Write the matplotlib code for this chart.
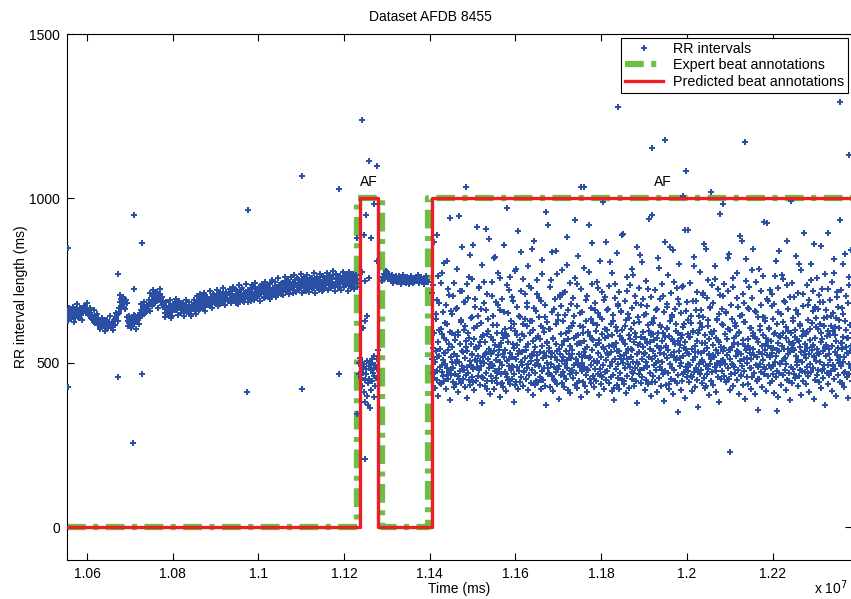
import numpy as np
import matplotlib.pyplot as plt

plt.rcParams['font.family'] = ['Liberation Sans', 'DejaVu Sans']

# --- data (time in ms, RR interval in ms) ---
# sinus rhythm before first AF episode, beats spread evenly between these times
nsr1_span = [10555000, 11231000]
nsr1_rr = [
    652, 640, 661, 645, 633, 650, 658, 641, 647, 636, 655, 662, 648, 639, 657, 666, 651, 644, 660, 653,
    668, 659, 671, 655, 662, 648, 657, 641, 650, 636, 644, 629, 638, 625, 634, 641, 622, 630, 619, 627,
    615, 628, 621, 610, 624, 617, 631, 612, 620, 606, 618, 625, 611, 619, 608, 623, 616, 629, 614, 626,
    638, 645, 649, 652, 668, 684, 695, 672, 689, 700, 678, 665, 691, 683, 640, 628, 621, 635, 624, 632,
    627, 638, 619, 633, 641, 625, 636, 630, 644, 639, 652, 660, 647, 668, 657, 671, 663, 655, 669, 661,
    664, 672, 658, 681, 690, 702, 685, 712, 697, 706, 689, 715, 700, 693, 708, 684, 696, 677, 688, 670,
    662, 651, 668, 645, 657, 673, 649, 664, 655, 641, 660, 675, 667, 682, 670, 661, 678, 686, 669, 676,
    681, 666, 659, 674, 652, 668, 663, 677, 655, 671, 660, 648, 667, 658, 673, 662, 679, 669, 656, 674,
    684, 671, 692, 678, 665, 687, 674, 696, 680, 669, 690, 683, 701, 676, 688, 694, 672, 685, 698, 679,
    693, 705, 684, 697, 688, 710, 676, 699, 691, 703, 682, 708, 695, 713, 687, 700, 716, 694, 706, 689,
    711, 698, 687, 705, 719, 693, 702, 724, 697, 683, 709, 700, 715, 692, 706, 721, 699, 688, 712, 703,
    696, 714, 707, 685, 720, 701, 711, 726, 694, 716, 705, 730, 709, 698, 719, 712, 724, 703, 717, 727,
    709, 722, 731, 714, 700, 726, 718, 735, 707, 721, 713, 739, 716, 704, 728, 711, 724, 733, 706, 719,
    727, 716, 738, 723, 710, 731, 744, 720, 735, 725, 748, 729, 717, 740, 732, 722, 745, 736, 727, 739,
    744, 730, 751, 737, 722, 742, 756, 733, 746, 728, 740, 753, 735, 719, 748, 738, 731, 752, 743, 726,
    739, 749, 732, 758, 741, 726, 747, 735, 754, 744, 729, 750, 738, 760, 733, 745, 722, 748, 740, 756,
    735, 751, 743, 762, 738, 748, 729, 755, 744, 766, 740, 733, 757, 747, 736, 760, 742, 751, 731, 749,
    758, 741, 764, 750, 736, 755, 745, 768, 739, 752, 743, 761, 734, 757, 748, 740, 763, 751, 744, 756,
]
# more beats of the same stretch (upper and lower edge of the band)
nsr1_rr_b = [
    628, 666, 640, 671, 625, 659, 678, 636, 664, 630, 672, 652, 681, 645, 668, 633, 660, 622, 649, 615,
    603, 636, 612, 598, 630, 607, 641, 615, 600, 633, 650, 628, 705, 662, 698, 671, 690, 612, 641, 605,
    612, 646, 603, 640, 618, 678, 641, 684, 650, 675, 690, 712, 674, 720, 681, 709, 668, 725, 699, 680,
    640, 684, 652, 690, 637, 679, 660, 695, 645, 688, 650, 681, 642, 692, 655, 686, 641, 677, 690, 648,
    702, 661, 708, 670, 713, 658, 699, 676, 718, 667, 709, 681, 722, 672, 715, 686, 728, 675, 711, 690,
    725, 681, 731, 690, 720, 678, 737, 695, 728, 684, 741, 699, 719, 687, 735, 692, 744, 701, 730, 689,
    740, 697, 746, 703, 738, 693, 752, 709, 745, 700, 757, 712, 741, 705, 760, 715, 748, 708, 762, 711,
    766, 714, 759, 720, 771, 712, 762, 718, 768, 716, 757, 725, 774, 713, 760, 722, 769, 717, 763, 727,
    772, 720, 767, 726, 778, 718, 770, 729, 765, 722, 775, 731, 768, 719, 776, 727, 771, 724, 766, 730,
]

# short AF episode
af1_t = [11230200, 11231000, 11234800, 11235900, 11237200, 11238400, 11239500, 11240600, 11241800,
         11242900, 11244200, 11245300, 11246500, 11247600, 11248800, 11249900, 11251100, 11252300,
         11253500, 11254600, 11255800, 11256900, 11258200, 11259300, 11260500, 11261700, 11262900,
         11264000, 11265200, 11266300, 11267500, 11268700, 11269900, 11271000, 11272200, 11273300,
         11274500, 11275700, 11276900, 11241200, 11251200, 11246500, 11262900, 11269900, 11276600,
         11258200, 11248900, 11253500, 11248900, 11244200, 11269900, 11248900, 11241200, 11258200,
         11277600, 11280000]
af1_rr = [880, 343, 465, 498, 515, 472, 490, 455, 503, 430, 488, 468, 412, 495, 447, 380, 482,
          465, 398, 505, 437, 370, 490, 452, 362, 478, 418, 500, 445, 512, 470, 395, 485, 460,
          430, 492, 455, 510, 480, 1239, 950, 888, 880, 983, 809, 1114, 748, 642, 626, 606, 522,
          206, 775, 759, 1099, 540]

# sinus rhythm between the two AF episodes
nsr2_span = [11289000, 11396000]
nsr2_rr = [748, 762, 771, 758, 780, 767, 776, 754, 769, 761, 750, 766, 757, 744, 760, 752, 765, 746,
           758, 749, 763, 755, 741, 759, 751, 768, 747, 756, 743, 761, 753, 739, 757, 748, 764, 750,
           742, 758, 745, 754, 760, 749, 766, 744, 757, 751, 762, 746, 755, 740, 759, 748, 763, 752, 745]

# long AF episode
af2_span = [11406000, 12385000]
af2_rr = [
    512, 468, 735, 455, 590, 423, 501, 648, 537, 476, 889, 449, 562, 398, 520, 681, 487, 541, 436, 604, 473, 772, 508, 459, 575,
    446, 530, 497, 621, 419, 568, 484, 811, 452, 539, 706, 471, 595, 388, 516, 462, 657, 503, 548, 441, 483, 742, 527, 467, 584,
    498, 436, 667, 521, 459, 583, 412, 502, 945, 474, 556, 438, 629, 490, 717, 451, 533, 479, 600, 426, 513, 685, 463, 547, 392,
    535, 470, 589, 448, 761, 505, 431, 558, 492, 640, 457, 526, 859, 481, 572, 417, 509, 694, 443, 541, 486, 613, 460, 522, 728,
    477, 551, 432, 506, 662, 489, 578, 379, 519, 453, 745, 498, 564, 428, 531, 906, 469, 587, 445, 511, 632, 484, 543, 404, 496,
    528, 461, 703, 444, 570, 490, 615, 421, 536, 474, 822, 509, 455, 592, 437, 524, 676, 482, 549, 397, 501, 759, 467, 560, 439,
    493, 574, 425, 518, 654, 471, 540, 413, 586, 458, 970, 504, 447, 563, 490, 721, 435, 529, 479, 607, 452, 516, 689, 486, 382,
    546, 466, 598, 433, 512, 784, 488, 553, 420, 527, 643, 475, 568, 441, 502, 837, 457, 534, 494, 619, 429, 581, 472, 710, 515,
    451, 539, 484, 671, 416, 557, 497, 733, 463, 520, 589, 438, 506, 626, 478, 565, 401, 532, 870, 469, 548, 493, 657, 444, 525,
    507, 580, 440, 698, 489, 534, 458, 611, 421, 552, 476, 769, 514, 447, 593, 483, 639, 430, 521, 373, 562, 499, 918, 465, 537,
    470, 545, 427, 602, 495, 751, 459, 530, 414, 576, 488, 664, 443, 517, 841, 473, 558, 436, 509, 629, 481, 543, 391, 526, 699,
    462, 588, 504, 437, 713, 518, 471, 565, 425, 645, 497, 536, 452, 798, 484, 571, 418, 528, 606, 466, 551, 409, 513, 680, 478,
    540, 455, 620, 492, 574, 433, 935, 511, 468, 556, 422, 739, 500, 583, 446, 527, 651, 486, 561, 395, 519, 474, 608, 441, 532,
    487, 566, 429, 522, 692, 463, 547, 410, 595, 478, 776, 515, 450, 580, 493, 633, 438, 538, 864, 459, 570, 426, 505, 659, 481,
    553, 445, 614, 498, 727, 467, 529, 402, 561, 482, 640, 435, 517, 588, 456, 990, 494, 542, 419, 576, 471, 700, 508, 448, 599,
    476, 523, 665, 439, 550, 491, 806, 457, 533, 415, 585, 502, 627, 464, 548, 387, 512, 741, 480, 560, 431, 597, 495, 673, 453,
    537, 420, 582, 469, 654, 511, 447, 568, 499, 893, 435, 524, 612, 483, 557, 408, 529, 718, 460, 543, 496, 636, 424, 571, 488,
    519, 604, 451, 538, 472, 766, 501, 562, 428, 590, 485, 683, 443, 526, 377, 554, 497, 625, 466, 532, 829, 479, 578, 437, 510,
    458, 547, 693, 485, 527, 416, 573, 503, 648, 449, 561, 490, 724, 434, 518, 596, 470, 541, 399, 585, 512, 950, 461, 535, 622,
    493, 569, 440, 520, 661, 477, 552, 412, 590, 506, 787, 455, 531, 615, 487, 544, 428, 567, 501, 702, 465, 528, 384, 579, 474,
    548, 432, 603, 515, 669, 468, 539, 421, 581, 496, 853, 452, 525, 640, 484, 565, 406, 534, 479, 747, 446, 557, 509, 618, 437,
    514, 591, 462, 536, 678, 489, 553, 418, 574, 500, 731, 443, 521, 609, 471, 546, 393, 563, 487, 656, 458, 530, 905, 476, 587,
    442, 526, 577, 494, 643, 461, 541, 413, 594, 508, 795, 473, 550, 427, 518, 687, 483, 566, 449, 532, 366, 599, 497, 621, 465,
    531, 478, 608, 439, 559, 502, 712, 454, 537, 424, 583, 490, 847, 467, 545, 630, 481, 523, 401, 571, 496, 667, 445, 512, 588,
    471, 555, 433, 598, 517, 756, 486, 540, 411, 576, 499, 634, 458, 529, 380, 563, 492, 706, 450, 547, 619, 474, 535, 984, 507,
    544, 460, 587, 495, 650, 441, 524, 572, 483, 819, 452, 538, 417, 601, 511, 675, 466, 549, 497, 730, 429, 561, 488, 612, 470,
    520, 582, 447, 535, 697, 479, 556, 405, 593, 504, 641, 462, 527, 870, 491, 568, 431, 512, 624, 476, 551, 389, 538, 748, 458,
    499, 573, 436, 546, 662, 484, 530, 420, 605, 510, 781, 456, 541, 592, 468, 523, 405, 579, 493, 655, 443, 516, 357, 564, 487,
    532, 451, 611, 497, 719, 473, 552, 426, 584, 508, 927, 465, 539, 636, 480, 557, 414, 525, 694, 461, 570, 492, 603, 438, 518,
    483, 566, 445, 529, 672, 490, 544, 409, 587, 503, 764, 457, 520, 617, 475, 560, 396, 536, 840, 468, 578, 499, 648, 432, 551,
    505, 589, 463, 541, 688, 478, 515, 418, 574, 496, 737, 449, 527, 597, 470, 562, 386, 533, 993, 488, 555, 439, 626, 482, 545,
    467, 538, 599, 453, 521, 659, 494, 570, 428, 509, 801, 461, 547, 612, 479, 532, 402, 581, 502, 710, 443, 524, 586, 473, 558,
    513, 434, 594, 487, 545, 676, 459, 528, 412, 568, 497, 753, 471, 539, 621, 484, 555, 391, 517, 862, 448, 575, 506, 637, 464,
    541, 479, 603, 442, 526, 684, 501, 563, 423, 589, 474, 725, 455, 537, 611, 492, 548, 371, 520, 660, 469, 580, 493, 895, 436,
    527, 462, 585, 508, 643, 476, 550, 415, 596, 489, 772, 451, 533, 608, 481, 566, 400, 524, 701, 464, 544, 498, 629, 441, 519,
    489, 561, 437, 543, 666, 503, 577, 427, 518, 832, 472, 549, 601, 458, 530, 392, 574, 495, 738, 466, 537, 615, 484, 552, 445,
]
# more beats of the same episode (the sparser upper part of the cloud)
af2_rr_b = [
    712, 545, 868, 472, 633, 690, 518, 765, 601, 438, 742, 587, 493, 654,
    803, 531, 676, 462, 619, 725, 556, 941, 482, 648, 591, 703, 427, 570,
    664, 509, 786, 594, 451, 718, 623, 537, 852, 479, 685, 612, 566, 739,
    488, 698, 575, 829, 636, 523, 754, 440, 607, 671, 549, 912, 505, 643,
    731, 562, 620, 458, 797, 584, 681, 526, 659, 419, 708, 597, 876, 533,
    579, 745, 497, 642, 818, 554, 686, 470, 615, 773, 540, 661, 434, 592,
    694, 528, 859, 603, 467, 736, 581, 650, 512, 762, 626, 489, 701, 558,
    617, 778, 442, 669, 584, 902, 536, 640, 719, 501, 588, 755, 476, 632,
    548, 682, 611, 794, 463, 627, 726, 520, 845, 599, 668, 431, 574, 710,
    751, 495, 638, 571, 689, 448, 812, 606, 530, 677, 960, 559, 624, 484,
    602, 729, 516, 655, 838, 572, 447, 693, 619, 769, 535, 645, 491, 707,
    674, 553, 781, 628, 460, 716, 590, 881, 507, 661, 596, 743, 474, 611,
    526, 696, 641, 758, 582, 437, 673, 825, 561, 612, 724, 499, 654, 589,
    789, 543, 627, 480, 702, 595, 919, 518, 666, 739, 571, 622, 452, 683,
    598, 747, 506, 652, 570, 808, 464, 634, 715, 547, 690, 603, 867, 529,
    660, 581, 733, 489, 617, 772, 555, 644, 423, 697, 610, 834, 536, 679,
    714, 522, 657, 600, 890, 568, 446, 688, 629, 761, 510, 647, 583, 735,
    543, 668, 784, 469, 621, 704, 579, 853, 502, 639, 726, 557, 677, 457,
    806, 593, 646, 531, 750, 486, 672, 615, 938, 564, 699, 441, 624, 587,
    637, 720, 498, 663, 576, 819, 545, 694, 609, 477, 741, 590, 655, 866,
    552, 680, 607, 767, 436, 626, 711, 573, 645, 842, 519, 663, 598, 728,
    693, 566, 799, 513, 650, 584, 734, 466, 618, 905, 541, 685, 631, 497,
    577, 744, 622, 458, 687, 596, 821, 534, 661, 716, 589, 473, 642, 776,
    659, 508, 705, 638, 862, 561, 428, 697, 613, 752, 527, 671, 594, 738,
    524, 681, 597, 793, 476, 630, 725, 569, 648, 953, 505, 664, 615, 703,
    740, 586, 653, 449, 717, 604, 830, 538, 676, 632, 494, 759, 575, 621,
    612, 772, 532, 669, 591, 887, 461, 644, 709, 558, 683, 624, 815, 515,
    667, 550, 730, 606, 483, 697, 580, 847, 523, 658, 745, 572, 639, 452,
    785, 601, 676, 528, 640, 763, 487, 626, 574, 924, 551, 688, 607, 721,
    546, 710, 634, 465, 679, 592, 808, 539, 655, 727, 582, 496, 647, 768,
    623, 754, 512, 686, 609, 871, 543, 665, 443, 701, 589, 743, 561, 636,
    699, 578, 826, 501, 648, 713, 566, 619, 782, 474, 674, 598, 895, 537,
    587, 736, 629, 470, 692, 603, 799, 549, 657, 718, 520, 671, 610, 757,
    663, 530, 707, 618, 856, 571, 481, 685, 635, 770, 553, 640, 596, 724,
    541, 690, 612, 746, 492, 652, 817, 583, 637, 716, 507, 669, 606, 935,
    721, 560, 648, 799, 469, 628, 702, 574, 683, 531, 760, 616, 842, 589,
]

# isolated beats (ectopics / outliers)
out_t = [10554500, 10554500, 10709700, 10708100, 10728400, 10728400, 10673100, 10673100, 10710400,
         10975100, 10973400, 11101100, 11101100, 11187000, 11187000,
         11484000, 11753000, 11760000, 11840000, 11918000, 11949000, 11991800, 11998100, 12056400,
         12135800, 12357500, 12378500, 12100800, 11979400, 12210500]
out_rr = [849, 426, 950, 255, 865, 467, 770, 457, 725, 966, 412, 1069, 419, 1029, 467,
          1036, 1036, 1036, 1277, 1154, 1177, 1006, 1082, 1019, 1170, 1294, 1131, 230, 349, 352]

# rhythm annotations: change points and state (1000 = AF, 0 = no AF)
expert_t = [10553000, 11231000, 11288000, 11397000, 12395000]
expert_state = [0, 1000, 0, 1000]
pred_t = [10553000, 11237000, 11279000, 11405000, 12395000]
pred_state = [0, 1000, 0, 1000]

xlim = [10553300, 12385500]
ylim = [-100, 1500]
xticks = [1.06, 1.08, 1.1, 1.12, 1.14, 1.16, 1.18, 1.2, 1.22]
xticklabels = ['1.06', '1.08', '1.1', '1.12', '1.14', '1.16', '1.18', '1.2', '1.22']
yticks = [0, 500, 1000, 1500]

blue = '#2b4fa3'
green = '#6cbf45'
red = '#ec1f26'
scale = 1e7

# beat times
t_all = np.concatenate([
    np.linspace(nsr1_span[0], nsr1_span[1], len(nsr1_rr)),
    np.linspace(nsr1_span[0], nsr1_span[1], len(nsr1_rr_b)),
    np.array(af1_t, dtype=float),
    np.linspace(nsr2_span[0], nsr2_span[1], len(nsr2_rr)),
    np.linspace(af2_span[0], af2_span[1], len(af2_rr)),
    np.linspace(af2_span[0], af2_span[1], len(af2_rr_b)),
    np.array(out_t, dtype=float),
])
rr_all = np.concatenate([nsr1_rr, nsr1_rr_b, af1_rr, nsr2_rr, af2_rr, af2_rr_b, out_rr]).astype(float)

fig = plt.figure(figsize=(8.51, 5.99), dpi=100)
ax = fig.add_axes([67 / 851, 39 / 599, 785 / 851, 526 / 599])

ax.plot(t_all / scale, rr_all, linestyle='none', marker='P', markersize=3.7,
        markeredgewidth=0, color=blue, label='RR intervals', zorder=3)

et = np.array(expert_t) / scale
ax.plot(et, expert_state + [expert_state[-1]], drawstyle='steps-post', color=green,
        linewidth=4.5, linestyle=(0, (3, 1.2, 0.8, 1.2)), label='Expert beat annotations', zorder=2)
pt = np.array(pred_t) / scale
ax.plot(pt, pred_state + [pred_state[-1]], drawstyle='steps-post', color=red,
        linewidth=2.4, label='Predicted beat annotations', zorder=4)

ax.text(1.12582, 1030, 'AF', ha='center', va='bottom', fontsize=10)
ax.text(1.19444, 1030, 'AF', ha='center', va='bottom', fontsize=10)

ax.set_xlim(xlim[0] / scale, xlim[1] / scale)
ax.set_ylim(ylim)
ax.set_xticks(xticks)
ax.set_xticklabels(xticklabels)
ax.set_yticks(yticks)
ax.tick_params(direction='in', top=True, right=True, length=5, width=0.8,
               labelsize=10, pad=5)
for s in ax.spines.values():
    s.set_linewidth(0.8)

ax.set_xlabel('Time (ms)', fontsize=10, labelpad=1)
ax.set_ylabel('RR interval length (ms)', fontsize=10, labelpad=1)

fig.text(430 / 851, 1 - 17 / 599, 'Dataset AFDB 8455', ha='center', va='center', fontsize=10)
fig.text(814 / 851, 1 - 588 / 599, 'x 10$^7$', ha='left', va='center', fontsize=10)

leg = ax.legend(loc='upper right', bbox_to_anchor=(848 / 851, 1 - 38 / 599),
                bbox_transform=fig.transFigure, borderaxespad=0, fancybox=False,
                framealpha=1, edgecolor='black', fontsize=10.3, handlelength=2.6,
                labelspacing=0.15, borderpad=0.3, handletextpad=0.7, markerscale=1.2)
leg.get_frame().set_linewidth(0.8)

fig.savefig('out.png', dpi=100)
